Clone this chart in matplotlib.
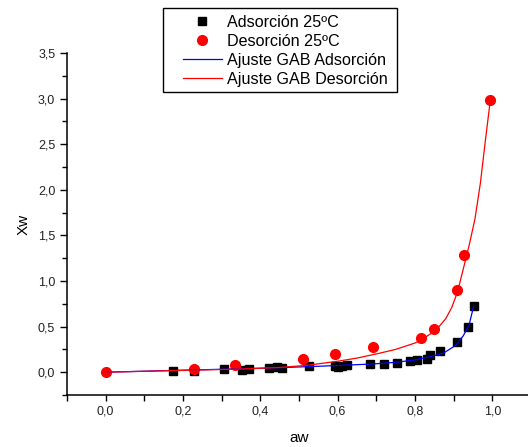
import numpy as np
import matplotlib
matplotlib.use("Agg")
from matplotlib import pyplot as plt
from matplotlib.patches import Rectangle
from matplotlib.ticker import MultipleLocator, FuncFormatter

# isotermas a 25 C: puntos experimentales
aw_ads = [0.175, 0.228, 0.307, 0.353, 0.37, 0.422, 0.444, 0.456, 0.525, 0.594,
          0.601, 0.611, 0.624, 0.683, 0.72, 0.754, 0.788, 0.804, 0.831, 0.838,
          0.864, 0.909, 0.936, 0.952]
xw_ads = [0.015, 0.015, 0.03, 0.02, 0.03, 0.05, 0.055, 0.05, 0.065, 0.07,
          0.06, 0.065, 0.075, 0.085, 0.095, 0.1, 0.12, 0.13, 0.15, 0.19,
          0.23, 0.33, 0.5, 0.73]

aw_des = [0.0, 0.228, 0.334, 0.51, 0.592, 0.692, 0.815, 0.848, 0.909, 0.928, 0.995]
xw_des = [0.0, 0.04, 0.075, 0.15, 0.195, 0.28, 0.37, 0.47, 0.9, 1.28, 2.99]

# curvas del ajuste GAB
aw_fit_ads = [0.0, 0.2, 0.35, 0.45, 0.55, 0.62, 0.69, 0.75, 0.8, 0.84, 0.874,
              0.9, 0.91, 0.925, 0.94, 0.952]
xw_fit_ads = [0.0, 0.022, 0.037, 0.05, 0.065, 0.077, 0.09, 0.108, 0.135, 0.17,
              0.21, 0.28, 0.32, 0.4, 0.52, 0.73]

aw_fit_des = [0.0, 0.2, 0.35, 0.45, 0.52, 0.6, 0.65, 0.7, 0.75, 0.8, 0.82, 0.84,
              0.86, 0.88, 0.895, 0.91, 0.92, 0.93, 0.94, 0.955, 0.969, 0.982, 0.995]
xw_fit_des = [0.0, 0.02, 0.035, 0.052, 0.075, 0.12, 0.155, 0.2, 0.25, 0.32, 0.365, 0.42,
              0.49, 0.59, 0.71, 0.88, 1.05, 1.22, 1.39, 1.68, 2.07, 2.54, 2.99]

plt.rcParams['font.family'] = ['Liberation Sans', 'DejaVu Sans']

fig = plt.figure(figsize=(5.28, 4.47), dpi=100)
ax = fig.add_axes([67 / 528, 52 / 447, 464 / 528, 342 / 447])

ax.plot(aw_ads, xw_ads, 's', color='black', ms=5.8, label='Adsorción 25ºC', zorder=2)
ax.plot(aw_des, xw_des, 'o', color='red', ms=7, label='Desorción 25ºC', zorder=2)
ax.plot(aw_fit_ads, xw_fit_ads, '-', color='blue', lw=0.9, label='Ajuste GAB Adsorción', zorder=3)
ax.plot(aw_fit_des, xw_fit_des, '-', color='red', lw=0.9, label='Ajuste GAB Desorción', zorder=3)

ax.set_xlim(-0.1, 1.1)
ax.set_ylim(-0.25, 3.5)
ax.spines['top'].set_visible(False)
ax.spines['right'].set_visible(False)
ax.spines['left'].set_linewidth(1.1)
ax.spines['bottom'].set_linewidth(1.1)

coma = FuncFormatter(lambda v, pos: ('%.1f' % v).replace('.', ','))
ax.xaxis.set_major_locator(MultipleLocator(0.2))
ax.xaxis.set_minor_locator(MultipleLocator(0.1))
ax.yaxis.set_major_locator(MultipleLocator(0.5))
ax.yaxis.set_minor_locator(MultipleLocator(0.25))
ax.xaxis.set_major_formatter(coma)
ax.yaxis.set_major_formatter(coma)
ax.tick_params(which='major', direction='out', length=5, width=1, labelsize=9,
               labelcolor='#222222')
ax.tick_params(which='minor', direction='out', length=3.5, width=1)
ax.tick_params(axis='x', which='both', length=4)

ax.set_xlabel('aw', fontsize=11, labelpad=10)
ax.set_ylabel('Xw', fontsize=11, labelpad=5)

# leyenda sin marco propio; el recuadro se dibuja aparte
leg = fig.legend(loc='upper left', bbox_to_anchor=(183 / 528, 1 - 15 / 447),
                 fontsize=11.6, frameon=False, borderaxespad=0, borderpad=0,
                 handlelength=2.4, handletextpad=0.35, labelspacing=0.25,
                 numpoints=1)
caja = Rectangle((163 / 528, 1 - 92 / 447), (397 - 163) / 528, 84 / 447,
                 transform=fig.transFigure, fill=False, edgecolor='black', lw=1.0)
fig.patches.append(caja)

fig.savefig('out.png', dpi=100)
